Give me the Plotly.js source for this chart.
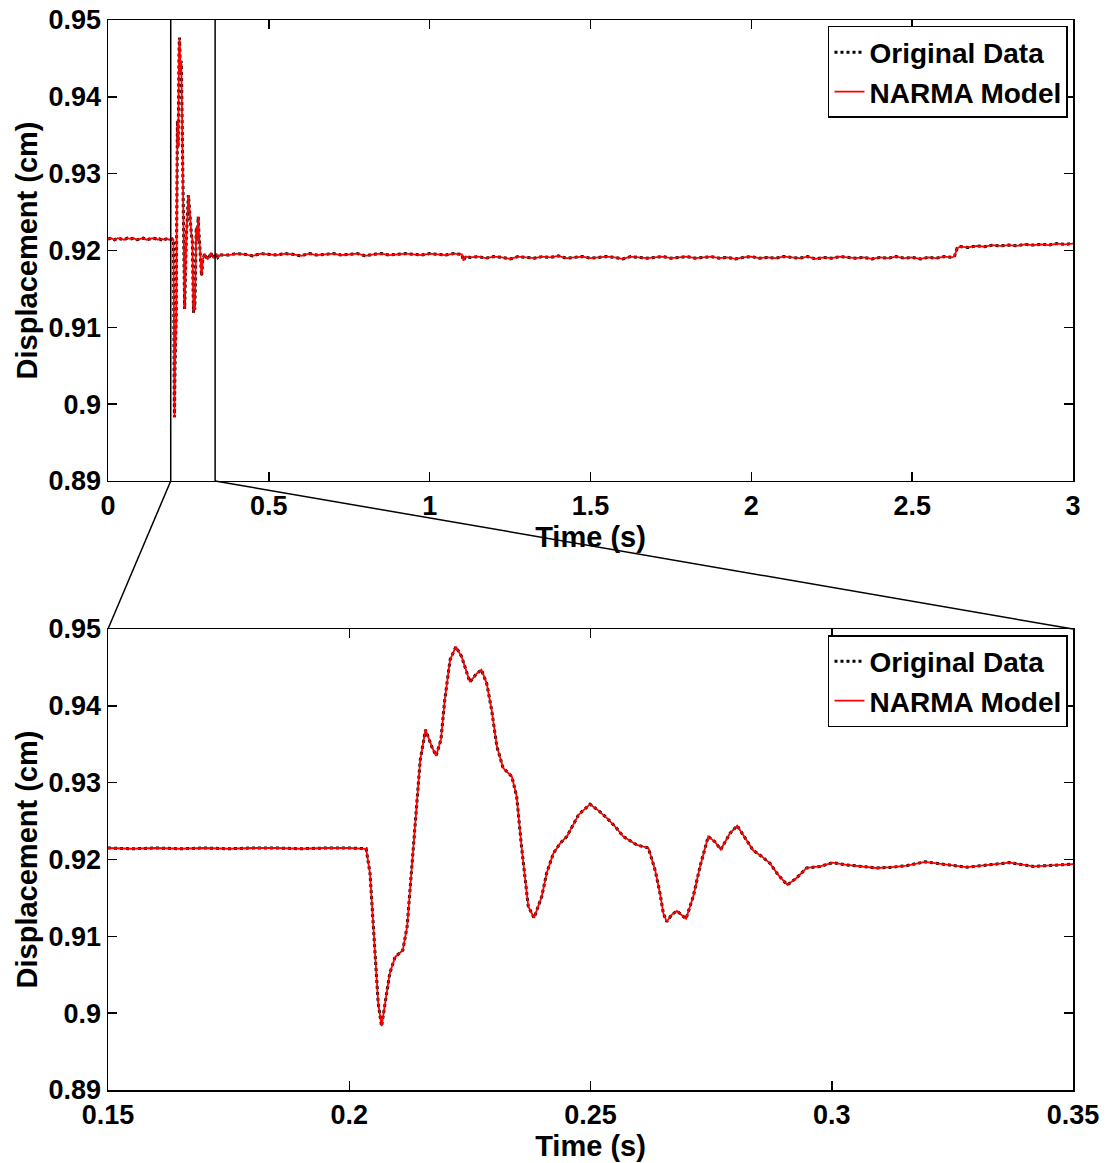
<!DOCTYPE html>
<html>
<head>
<meta charset="utf-8">
<script src="https://cdn.plot.ly/plotly-3.0.1.min.js"></script>
<style>html,body{margin:0;padding:0;background:#fff;}</style>
</head>
<body>
<div id="chart" style="width:1109px;height:1163px;"></div>
<script>
// ---------- data ----------
const preTime = [0,0.01,0.02,0.03,0.04,0.05,0.06,0.07,0.08,0.09,0.10,0.11,0.12,0.13,0.14];
const preDisp = [0.9215,0.9216,0.9214,0.9216,0.9215,0.9214,0.9216,0.9215,0.9216,0.9214,0.9215,0.9216,0.9214,0.9215,0.9216];

const zoomTime = [0.150,0.155,0.160,0.165,0.170,0.175,0.180,0.185,0.190,0.195,0.200,0.2035,
  0.2043,0.2053,0.2060,0.2067,0.2074,0.2084,0.2095,0.2111,0.2120,0.2129,0.2138,0.2147,0.2158,
  0.2171,0.2180,0.2190,0.2198,0.2209,0.2221,0.2233,0.2250,0.2264,0.2274,0.2285,0.2295,0.2306,
  0.2319,0.2337,0.2347,0.2357,0.2371,0.2383,0.2399,0.2409,0.2423,0.2437,0.2451,0.2475,0.2499,
  0.2516,0.2534,0.2551,0.2568,0.2596,0.2620,0.2634,0.2644,0.2651,0.2658,0.2668,0.2679,0.2689,
  0.2698,0.2713,0.2727,0.2744,0.2758,0.2770,0.2789,0.2804,0.2820,0.2837,0.2855,0.2872,0.2889,
  0.2908,0.2927,0.2948,0.2976,0.3002,0.3031,0.3060,0.3093,0.3125,0.3155,0.3193,0.3240,0.3280,
  0.3325,0.3369,0.3418,0.3460,0.3500];
const zoomDisp = [0.9215,0.9214,0.9215,0.9214,0.9215,0.9214,0.9215,0.9215,0.9214,0.9215,0.9215,0.9214,
  0.9182,0.9078,0.9013,0.8983,0.9013,0.9052,0.9073,0.9082,0.9113,0.9182,0.9251,0.9329,0.9369,
  0.9347,0.9335,0.9356,0.9408,0.9460,0.9477,0.9464,0.9431,0.9442,0.9447,0.9429,0.9395,0.9347,
  0.9319,0.9308,0.9282,0.9217,0.9139,0.9124,0.9152,0.9182,0.9208,0.9221,0.9230,0.9258,0.9272,
  0.9264,0.9254,0.9243,0.9230,0.9219,0.9215,0.9186,0.9156,0.9130,0.9119,0.9128,0.9133,0.9128,
  0.9123,0.9152,0.9191,0.9230,0.9223,0.9213,0.9234,0.9244,0.9228,0.9212,0.9204,0.9195,0.9180,
  0.9167,0.9176,0.9189,0.9191,0.9196,0.9193,0.9191,0.9189,0.9190,0.9192,0.9197,0.9193,0.9190,
  0.9193,0.9196,0.9191,0.9193,0.9194];

const postTime = [0.375,0.400,0.425,0.450,0.475,0.500,0.525,0.550,0.575,0.600,
  0.625,0.650,0.675,0.700,0.725,0.750,0.775,0.800,0.825,0.850,
  0.875,0.900,0.925,0.950,0.975,1.000,1.025,1.050,1.075,1.100,
  1.105,1.112,
  1.125,1.150,1.175,1.200,1.225,1.250,1.275,1.300,1.325,1.350,
  1.375,1.400,1.425,1.450,1.475,1.500,1.525,1.550,1.575,1.600,
  1.625,1.650,1.675,1.700,1.725,1.750,1.775,1.800,1.825,1.850,
  1.875,1.900,1.925,1.950,1.975,2.000,2.025,2.050,2.075,2.100,
  2.125,2.150,2.175,2.200,2.225,2.250,2.275,2.300,2.325,2.350,
  2.375,2.400,2.425,2.450,2.475,2.500,2.525,2.550,2.575,2.600,
  2.625,2.632,2.640,2.650,
  2.675,2.700,2.725,2.750,2.775,2.800,2.825,2.850,2.875,2.900,2.925,2.950,2.975,3.000];
const postDisp = [0.9194,0.9196,0.9195,0.9193,0.9196,0.9195,0.9194,0.9196,0.9195,0.9193,
  0.9196,0.9194,0.9195,0.9196,0.9194,0.9195,0.9196,0.9193,0.9195,0.9196,
  0.9194,0.9195,0.9196,0.9195,0.9194,0.9196,0.9195,0.9194,0.9196,0.9195,
  0.9187,0.9192,
  0.9191,0.9192,0.9190,0.9192,0.9191,0.9189,0.9192,0.9191,0.9190,0.9192,
  0.9191,0.9193,0.9190,0.9191,0.9192,0.9190,0.9191,0.9192,0.9191,0.9189,
  0.9192,0.9191,0.9190,0.9191,0.9192,0.9190,0.9191,0.9192,0.9190,0.9191,
  0.9192,0.9190,0.9191,0.9189,0.9191,0.9192,0.9190,0.9191,0.9190,0.9192,
  0.9191,0.9190,0.9192,0.9189,0.9191,0.9190,0.9192,0.9191,0.9190,0.9191,
  0.9189,0.9191,0.9190,0.9192,0.9190,0.9191,0.9189,0.9191,0.9190,0.9192,
  0.9191,0.9193,0.9203,0.9205,
  0.9204,0.9206,0.9205,0.9207,0.9206,0.9207,0.9206,0.9208,0.9207,0.9208,0.9207,0.9209,0.9208,0.9209];

const zoomStart = 0.195, zoomEnd = 0.333;

const topXTicks = [0,0.5,1,1.5,2,2.5,3];
const topXText  = ['0','0.5','1','1.5','2','2.5','3'];
const botXTicks = [0.15,0.2,0.25,0.3,0.35];
const botXText  = ['0.15','0.2','0.25','0.3','0.35'];
const yTicks = [0.89,0.9,0.91,0.92,0.93,0.94,0.95];
const yText  = ['0.89','0.9','0.91','0.92','0.93','0.94','0.95'];

const seriesNames = ['Original Data','NARMA Model'];

// ---------- build ----------
const fullTime = preTime.concat(zoomTime, postTime);
const fullDisp = preDisp.concat(zoomDisp, postDisp);

const TICKFONT = {family:'Liberation Sans, Arial, sans-serif', size:27, color:'#000', weight:'bold'};
const TITLEFONT = {family:'Liberation Sans, Arial, sans-serif', size:29, color:'#000', weight:'bold'};
const LEGFONT = {family:'Liberation Sans, Arial, sans-serif', size:28, color:'#000', weight:'bold'};
const origLine = {color:'#000', width:3, dash:'dot'};
const modelLine = {color:'#ff0000', width:1.8};

const traces = [
  {x:fullTime, y:fullDisp, name:seriesNames[0], mode:'lines', line:origLine, xaxis:'x', yaxis:'y', legend:'legend'},
  {x:fullTime, y:fullDisp, name:seriesNames[1], mode:'lines', line:modelLine, xaxis:'x', yaxis:'y', legend:'legend'},
  {x:zoomTime, y:zoomDisp, name:seriesNames[0], mode:'lines', line:origLine, xaxis:'x2', yaxis:'y2', legend:'legend2'},
  {x:zoomTime, y:zoomDisp, name:seriesNames[1], mode:'lines', line:modelLine, xaxis:'x2', yaxis:'y2', legend:'legend2'}
];

const topDom = [0.5692, 1];
const botDom = [0, 0.4308];
const tRange = [0,3];

const axBase = {showline:true, linecolor:'#000', linewidth:1.5, mirror:'ticks', ticks:'inside',
  ticklen:9, tickwidth:1.5, tickcolor:'#000', showgrid:false, zeroline:false,
  tickfont:TICKFONT, automargin:false, tickmode:'array'};

const layout = {
  width:1109, height:1163,
  margin:{l:108, r:36, t:20, b:73},
  paper_bgcolor:'#fff', plot_bgcolor:'#fff',
  font:TICKFONT,
  showlegend:true,
  xaxis: Object.assign({}, axBase, {domain:[0,1], range:tRange, anchor:'y', tickvals:topXTicks, ticktext:topXText,
    title:{text:'Time (s)', font:TITLEFONT, standoff:0}}),
  yaxis: Object.assign({}, axBase, {domain:topDom, range:[0.89,0.95], anchor:'x', tickvals:yTicks, ticktext:yText,
    title:{text:'Displacement (cm)', font:TITLEFONT, standoff:2}}),
  xaxis2: Object.assign({}, axBase, {domain:[0,1], range:[0.15,0.35], anchor:'y2', tickvals:botXTicks, ticktext:botXText,
    title:{text:'Time (s)', font:TITLEFONT, standoff:0}}),
  yaxis2: Object.assign({}, axBase, {domain:botDom, range:[0.89,0.95], anchor:'x2', tickvals:yTicks, ticktext:yText,
    title:{text:'Displacement (cm)', font:TITLEFONT, standoff:2}}),
  legend:{x:0.9948, y:0.9944, xanchor:'right', yanchor:'top', bgcolor:'#fff', bordercolor:'#000', borderwidth:1.5,
    font:LEGFONT, tracegroupgap:0, itemwidth:30},
  legend2:{x:0.9948, y:0.4252, xanchor:'right', yanchor:'top', bgcolor:'#fff', bordercolor:'#000', borderwidth:1.5,
    font:LEGFONT, tracegroupgap:0, itemwidth:30},
  shapes:[
    {type:'line', xref:'x', yref:'y', x0:zoomStart, x1:zoomStart, y0:0.89, y1:0.95, line:{color:'#000', width:1.5}},
    {type:'line', xref:'x', yref:'y', x0:zoomEnd, x1:zoomEnd, y0:0.89, y1:0.95, line:{color:'#000', width:1.5}},
    {type:'line', xref:'paper', yref:'paper', x0:zoomStart/tRange[1], y0:topDom[0], x1:0, y1:botDom[1], line:{color:'#000', width:1.5}},
    {type:'line', xref:'paper', yref:'paper', x0:zoomEnd/tRange[1], y0:topDom[0], x1:1, y1:botDom[1], line:{color:'#000', width:1.5}}
  ]
};

Plotly.newPlot('chart', traces, layout, {displayModeBar:false, staticPlot:true});
</script>
</body>
</html>
